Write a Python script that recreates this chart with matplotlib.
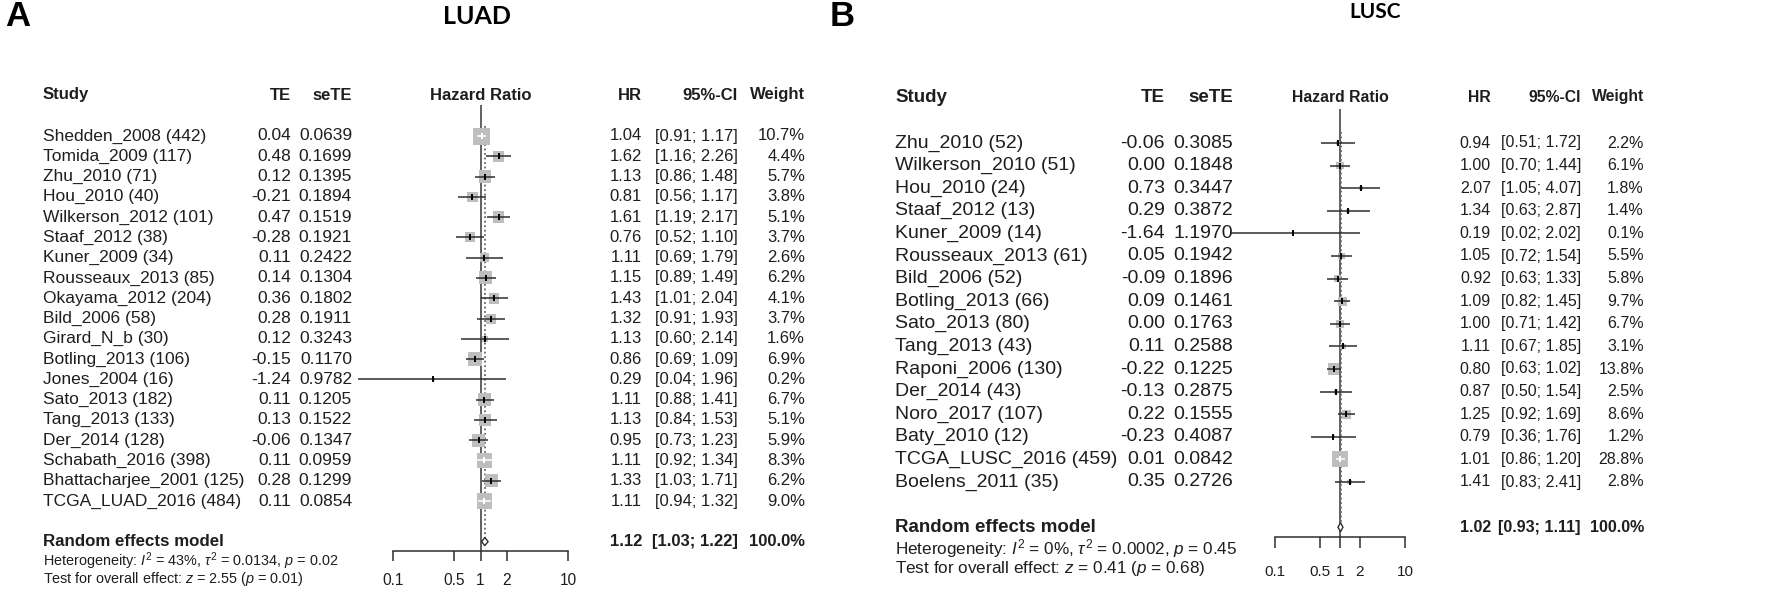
import matplotlib
matplotlib.use("Agg")
import matplotlib.pyplot as plt
import matplotlib.transforms as mtransforms
from matplotlib.ticker import NullLocator, FixedLocator, FixedFormatter
import numpy as np

plt.rcParams["font.family"] = ["Liberation Sans", "DejaVu Sans"]
plt.rcParams["mathtext.fontset"] = "custom"
plt.rcParams["mathtext.rm"] = "Liberation Sans"
plt.rcParams["mathtext.it"] = "Liberation Sans:italic"
plt.rcParams["mathtext.bf"] = "Liberation Sans:bold"

# ---------------- data: LUAD ----------------
studies_a = ["Shedden_2008 (442)", "Tomida_2009 (117)", "Zhu_2010 (71)", "Hou_2010 (40)",
             "Wilkerson_2012 (101)", "Staaf_2012 (38)", "Kuner_2009 (34)", "Rousseaux_2013 (85)",
             "Okayama_2012 (204)", "Bild_2006 (58)", "Girard_N_b (30)", "Botling_2013 (106)",
             "Jones_2004 (16)", "Sato_2013 (182)", "Tang_2013 (133)", "Der_2014 (128)",
             "Schabath_2016 (398)", "Bhattacharjee_2001 (125)", "TCGA_LUAD_2016 (484)"]
te_a = [0.04, 0.48, 0.12, -0.21, 0.47, -0.28, 0.11, 0.14, 0.36, 0.28, 0.12, -0.15, -1.24,
        0.11, 0.13, -0.06, 0.11, 0.28, 0.11]
sete_a = [0.0639, 0.1699, 0.1395, 0.1894, 0.1519, 0.1921, 0.2422, 0.1304, 0.1802, 0.1911,
          0.3243, 0.1170, 0.9782, 0.1205, 0.1522, 0.1347, 0.0959, 0.1299, 0.0854]
hr_a = [1.04, 1.62, 1.13, 0.81, 1.61, 0.76, 1.11, 1.15, 1.43, 1.32, 1.13, 0.86, 0.29,
        1.11, 1.13, 0.95, 1.11, 1.33, 1.11]
lo_a = [0.91, 1.16, 0.86, 0.56, 1.19, 0.52, 0.69, 0.89, 1.01, 0.91, 0.60, 0.69, 0.04,
        0.88, 0.84, 0.73, 0.92, 1.03, 0.94]
hi_a = [1.17, 2.26, 1.48, 1.17, 2.17, 1.10, 1.79, 1.49, 2.04, 1.93, 2.14, 1.09, 1.96,
        1.41, 1.53, 1.23, 1.34, 1.71, 1.32]
w_a = [10.7, 4.4, 5.7, 3.8, 5.1, 3.7, 2.6, 6.2, 4.1, 3.7, 1.6, 6.9, 0.2, 6.7, 5.1, 5.9,
       8.3, 6.2, 9.0]
re_a = (1.12, 1.03, 1.22, 100.0)
het_a = r"Heterogeneity: $I^2$ = 43%, $\tau^2$ = 0.0134, $p$ = 0.02"
test_a = r"Test for overall effect: $z$ = 2.55 ($p$ = 0.01)"

# ---------------- data: LUSC ----------------
studies_b = ["Zhu_2010 (52)", "Wilkerson_2010 (51)", "Hou_2010 (24)", "Staaf_2012 (13)",
             "Kuner_2009 (14)", "Rousseaux_2013 (61)", "Bild_2006 (52)", "Botling_2013 (66)",
             "Sato_2013 (80)", "Tang_2013 (43)", "Raponi_2006 (130)", "Der_2014 (43)",
             "Noro_2017 (107)", "Baty_2010 (12)", "TCGA_LUSC_2016 (459)", "Boelens_2011 (35)"]
te_b = [-0.06, 0.00, 0.73, 0.29, -1.64, 0.05, -0.09, 0.09, 0.00, 0.11, -0.22, -0.13, 0.22,
        -0.23, 0.01, 0.35]
sete_b = [0.3085, 0.1848, 0.3447, 0.3872, 1.1970, 0.1942, 0.1896, 0.1461, 0.1763, 0.2588,
          0.1225, 0.2875, 0.1555, 0.4087, 0.0842, 0.2726]
hr_b = [0.94, 1.00, 2.07, 1.34, 0.19, 1.05, 0.92, 1.09, 1.00, 1.11, 0.80, 0.87, 1.25, 0.79,
        1.01, 1.41]
lo_b = [0.51, 0.70, 1.05, 0.63, 0.02, 0.72, 0.63, 0.82, 0.71, 0.67, 0.63, 0.50, 0.92, 0.36,
        0.86, 0.83]
hi_b = [1.72, 1.44, 4.07, 2.87, 2.02, 1.54, 1.33, 1.45, 1.42, 1.85, 1.02, 1.54, 1.69, 1.76,
        1.20, 2.41]
w_b = [2.2, 6.1, 1.8, 1.4, 0.1, 5.5, 5.8, 9.7, 6.7, 3.1, 13.8, 2.5, 8.6, 1.2, 28.8, 2.8]
re_b = (1.02, 0.93, 1.11, 100.0)
het_b = r"Heterogeneity: $I^2$ = 0%, $\tau^2$ = 0.0002, $p$ = 0.45"
test_b = r"Test for overall effect: $z$ = 0.41 ($p$ = 0.68)"

tick_vals = [0.1, 0.5, 1, 2, 10]
tick_labels = ["0.1", "0.5", "1", "2", "10"]

W, H = 1772, 616
fig = plt.figure(figsize=(W / 100, H / 100), dpi=100)
fig.patch.set_facecolor("white")
TXT = "#1e1e1e"
LINE = "#2e2e2e"


def fy(py):
    return 1 - py / H


def forest(box, y0, step, cols, fs, studies, te, sete, hr, lo, hi, w, re, het, test,
           box_px, foot_y, tick_len, tick_pad, re_row):
    left, right, top, bottom = box
    ax = fig.add_axes([left / W, 1 - bottom / H, (right - left) / W, (bottom - top) / H])
    ax.set_xscale("log")
    ax.set_xlim(0.1, 10)
    ax.set_ylim((bottom - y0) / step, (top - y0) / step)
    ax.patch.set_alpha(0)
    for s in ("left", "right", "top"):
        ax.spines[s].set_visible(False)
    ax.spines["bottom"].set_color(LINE)
    ax.spines["bottom"].set_linewidth(1.1)
    ax.yaxis.set_major_locator(NullLocator())
    ax.xaxis.set_minor_locator(NullLocator())
    ax.xaxis.set_major_locator(FixedLocator(tick_vals))
    ax.xaxis.set_major_formatter(FixedFormatter(tick_labels))
    ax.tick_params(axis="x", length=tick_len, width=1.1, color=LINE, pad=tick_pad,
                   labelsize=fs["tick"], labelcolor=TXT)

    n = len(studies)
    rows = np.arange(n)
    w = np.asarray(w, float)
    hr = np.asarray(hr, float)
    lo = np.asarray(lo, float)
    hi = np.asarray(hi, float)
    px_dec = (right - left) / 2.0
    side = box_px * np.sqrt(w / w.max())
    ax.scatter(hr, rows, marker="s", s=(side * 0.72) ** 2, color="#bebebe",
               edgecolors="none", zorder=2, clip_on=False)
    half = side / 2 / px_dec
    for i in range(n):
        inside = (np.log10(lo[i]) >= np.log10(hr[i]) - half[i]) and \
                 (np.log10(hi[i]) <= np.log10(hr[i]) + half[i])
        c = "white" if inside else LINE
        ax.plot([lo[i], hi[i]], [i, i], color=c, lw=1.1, zorder=3, clip_on=False,
                solid_capstyle="butt")
        ax.plot([hr[i]], [i], marker="|", ms=4, mew=1.4, color=c if inside else "black",
                zorder=4, clip_on=False)

    # reference line at 1 and dotted line at pooled estimate
    ax.axvline(1, color="#555555", lw=1.3, zorder=1)
    ax.plot([re[0], re[0]], [-0.5, re_row], color="#666666", lw=1.3, ls=(0, (1, 1.5)),
            zorder=1)
    dh = 0.2
    ax.fill([re[1], re[0], re[2], re[0]], [re_row, re_row - dh, re_row, re_row + dh],
            facecolor="white", edgecolor=LINE, lw=1.0, zorder=5, clip_on=False)

    tr = mtransforms.blended_transform_factory(fig.transFigure, ax.transData)
    # header
    hy = fy(cols["hy"])
    fig.text(cols["study"] / W, hy, "Study", ha="left", va="center", fontsize=fs["hl"],
             fontweight="bold", color=TXT)
    fig.text(cols["te"] / W, hy, "TE", ha="right", va="center", fontsize=fs["hl"],
             fontweight="bold", color=TXT)
    fig.text(cols["sete"] / W, hy, "seTE", ha="right", va="center", fontsize=fs["hl"],
             fontweight="bold", color=TXT)
    fig.text(cols["hrlab"] / W, hy, "Hazard Ratio", ha="center", va="center",
             fontsize=fs["hr"], fontweight="bold", color=TXT)
    fig.text(cols["hr"] / W, hy, "HR", ha="right", va="center", fontsize=fs["hr"],
             fontweight="bold", color=TXT)
    fig.text(cols["ci"] / W, hy, "95%-CI", ha="right", va="center", fontsize=fs["hr"],
             fontweight="bold", color=TXT)
    fig.text(cols["w"] / W, hy, "Weight", ha="right", va="center", fontsize=fs["hr"],
             fontweight="bold", color=TXT)
    # rows
    for i in range(n):
        ax.text(cols["study"] / W, i, studies[i], transform=tr, ha="left", va="center",
                fontsize=fs["bl"], color=TXT)
        ax.text(cols["te"] / W, i, f"{te[i]:.2f}", transform=tr, ha="right", va="center",
                fontsize=fs["bl"], color=TXT)
        ax.text(cols["sete"] / W, i, f"{sete[i]:.4f}", transform=tr, ha="right",
                va="center", fontsize=fs["bl"], color=TXT)
        ax.text(cols["hr"] / W, i, f"{hr[i]:.2f}", transform=tr, ha="right", va="center",
                fontsize=fs["br"], color=TXT)
        ax.text(cols["ci"] / W, i, f"[{lo[i]:.2f}; {hi[i]:.2f}]", transform=tr, ha="right",
                va="center", fontsize=fs["br"], color=TXT)
        ax.text(cols["w"] / W, i, f"{w[i]:.1f}%", transform=tr, ha="right", va="center",
                fontsize=fs["br"], color=TXT)
    # pooled
    ax.text(cols["study"] / W, re_row, "Random effects model", transform=tr, ha="left",
            va="center", fontsize=fs["re"], fontweight="bold", color=TXT)
    ax.text(cols["hr"] / W, re_row, f"{re[0]:.2f}", transform=tr, ha="right", va="center",
            fontsize=fs["br"], fontweight="bold", color=TXT)
    ax.text(cols["ci"] / W, re_row, f"[{re[1]:.2f}; {re[2]:.2f}]", transform=tr,
            ha="right", va="center", fontsize=fs["br"], fontweight="bold", color=TXT)
    ax.text(cols["w"] / W, re_row, f"{re[3]:.1f}%", transform=tr, ha="right", va="center",
            fontsize=fs["br"], fontweight="bold", color=TXT)
    fig.text(cols["study"] / W, fy(foot_y[0]), het, ha="left", va="center",
             fontsize=fs["ft"], color=TXT)
    fig.text(cols["study"] / W, fy(foot_y[1]), test, ha="left", va="center",
             fontsize=fs["ft"], color=TXT)
    return ax


forest(box=(393, 568, 105, 551), y0=136, step=20.28,
       cols=dict(hy=95, study=43, te=291, sete=352, hrlab=481, hr=642, ci=738, w=805),
       fs=dict(hl=12, hr=12, bl=12.5, br=12, re=12.2, ft=10.4, tick=11.2),
       studies=studies_a, te=te_a, sete=sete_a, hr=hr_a, lo=lo_a, hi=hi_a, w=w_a,
       re=re_a, het=het_a, test=test_a, box_px=17, foot_y=(561, 579),
       tick_len=7, tick_pad=9, re_row=20)

forest(box=(1275, 1405, 109, 537), y0=143, step=22.6,
       cols=dict(hy=97, study=895, te=1165, sete=1233, hrlab=1340, hr=1491, ci=1581, w=1644),
       fs=dict(hl=13.5, hr=11.3, bl=14, br=11.5, re=13.5, ft=12.3, tick=11),
       studies=studies_b, te=te_b, sete=sete_b, hr=hr_b, lo=lo_b, hi=hi_b, w=w_b,
       re=re_b, het=het_b, test=test_b, box_px=16, foot_y=(549, 569),
       tick_len=8, tick_pad=12, re_row=17)

# panel letters and titles
fig.text(5 / W, fy(17), "A", ha="left", va="center", fontsize=25, fontweight="bold",
         color="black")
fig.text(830 / W, fy(17), "B", ha="left", va="center", fontsize=25, fontweight="bold",
         color="black")
fig.text(477 / W, fy(16), "LUAD", ha="center", va="center", fontsize=18,
         fontweight="bold", family=["Lato", "DejaVu Sans"], color="black")
fig.text(1375 / W, fy(12), "LUSC", ha="center", va="center", fontsize=15,
         fontweight="bold", family=["Lato", "DejaVu Sans"], color="black")

fig.savefig("out.png", dpi=100, facecolor="white")
